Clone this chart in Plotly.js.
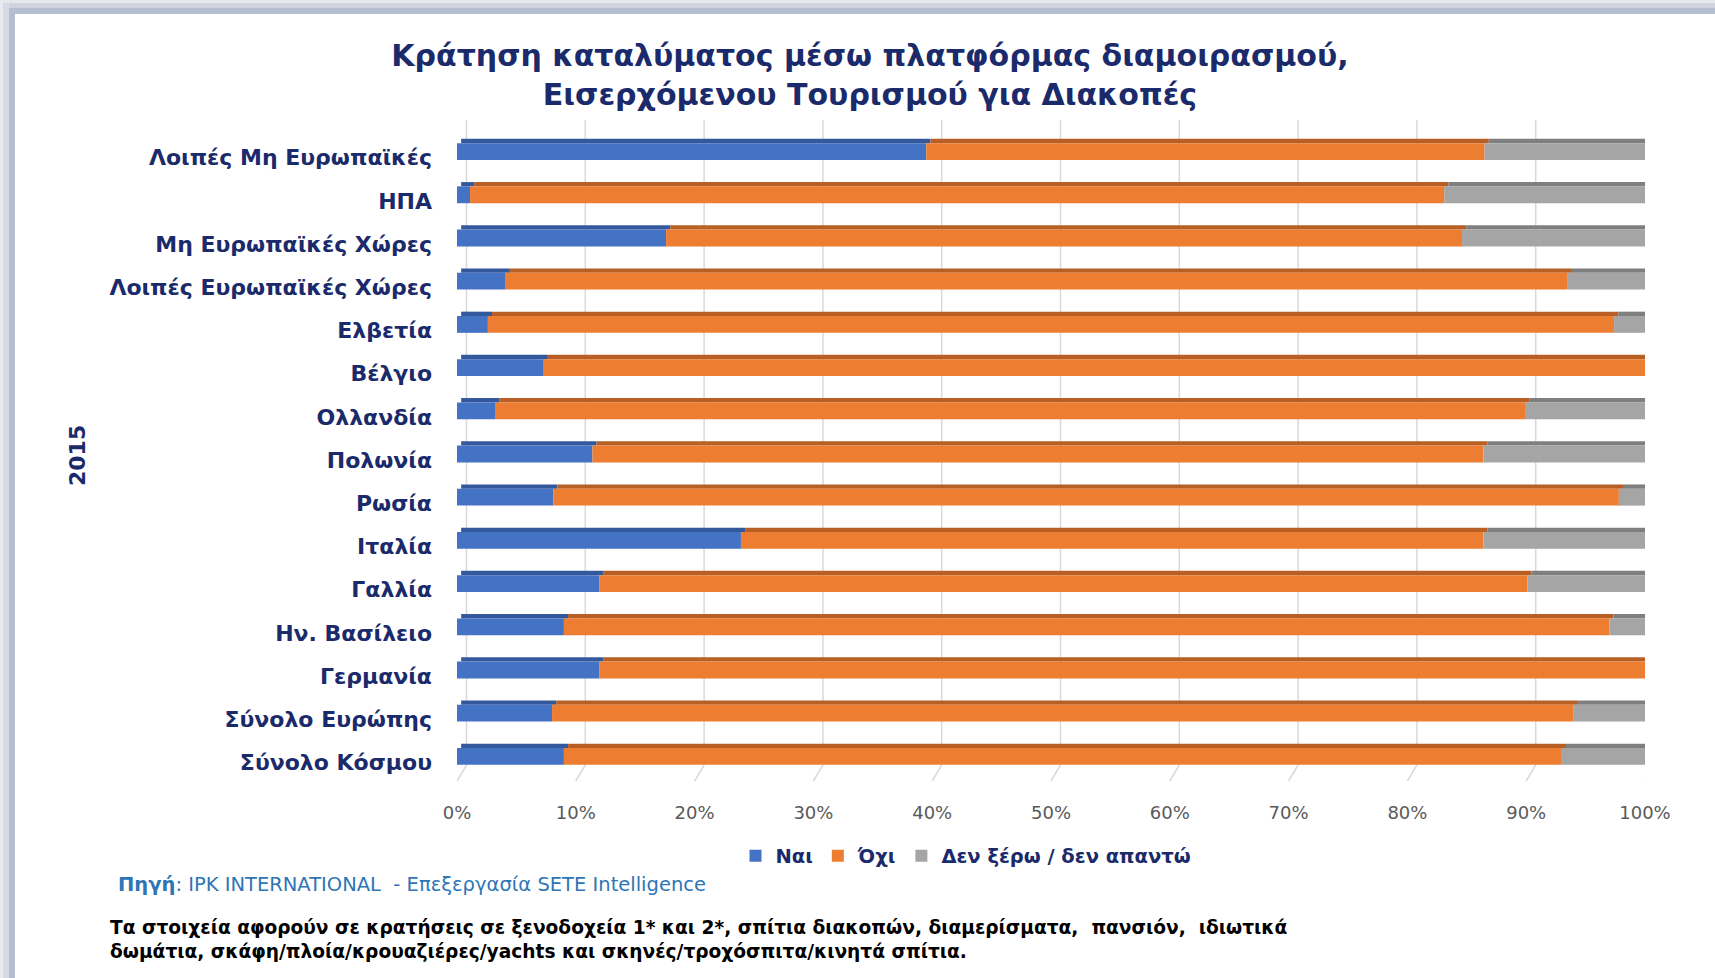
<!DOCTYPE html>
<html>
<head>
<meta charset="utf-8">
<script src="https://cdn.plot.ly/plotly-3.0.1.min.js"></script>
<style>
  html, body { margin: 0; padding: 0; background: #ffffff; }
  #wrap { position: relative; width: 1715px; height: 978px; overflow: hidden; background: #ffffff; }
  #chart { position: absolute; left: 0; top: 0; width: 1715px; height: 978px; }
  .band { position: absolute; pointer-events: none; z-index: 5; }
</style>
</head>
<body>
<div id="wrap">
  <div id="chart"></div>
  <div class="band" style="left:0;top:0;width:1715px;height:3px;background:#e7e8ee;"></div>
  <div class="band" style="left:0;top:3px;width:1715px;height:5px;background:#cfd3df;"></div>
  <div class="band" style="left:9px;top:8px;width:1706px;height:6px;background:#b5bdd0;"></div>
  <div class="band" style="left:0;top:0;width:3px;height:978px;background:#e9eaf0;"></div>
  <div class="band" style="left:3px;top:3px;width:6px;height:975px;background:#d7dbe5;"></div>
  <div class="band" style="left:9px;top:8px;width:6px;height:970px;background:#b5bdd0;"></div>
</div>
<script>
// ---- data ----
const categories = [
  'Λοιπές Μη Ευρωπαϊκές', 'ΗΠΑ', 'Μη Ευρωπαϊκές Χώρες', 'Λοιπές Ευρωπαϊκές Χώρες',
  'Ελβετία', 'Βέλγιο', 'Ολλανδία', 'Πολωνία', 'Ρωσία', 'Ιταλία', 'Γαλλία',
  'Ην. Βασίλειο', 'Γερμανία', 'Σύνολο Ευρώπης', 'Σύνολο Κόσμου'
];
const nai = [39.5, 1.1, 17.6, 4.1, 2.6, 7.3, 3.2, 11.4, 8.1, 23.9, 12.0, 9.0, 12.0, 8.0, 9.0];
const oxi = [47.0, 82.0, 67.0, 89.4, 94.8, 92.7, 86.7, 75.0, 89.7, 62.5, 78.1, 88.0, 88.0, 86.0, 84.0];
const den = [13.5, 16.9, 15.4, 6.5, 2.6, 0.0, 10.1, 13.6, 2.2, 13.6, 9.9, 3.0, 0.0, 6.0, 7.0];
const seriesNames = ['Ναι', 'Όχι', 'Δεν ξέρω / δεν απαντώ'];
const xTickVals = [0, 10, 20, 30, 40, 50, 60, 70, 80, 90, 100];
const xTickText = ['0%', '10%', '20%', '30%', '40%', '50%', '60%', '70%', '80%', '90%', '100%'];
const yearLabel = '2015';
const titleText = '<b>Κράτηση καταλύματος μέσω πλατφόρμας διαμοιρασμού,<br>Εισερχόμενου Τουρισμού για Διακοπές</b>';
const sourceText = '<b>Πηγή</b>: IPK INTERNATIONAL  - Επεξεργασία SETE Intelligence';
const noteText = '<b>Τα στοιχεία αφορούν σε κρατήσεις σε ξενοδοχεία 1* και 2*, σπίτια διακοπών, διαμερίσματα,  πανσιόν,  ιδιωτικά<br>δωμάτια, σκάφη/πλοία/κρουαζιέρες/yachts και σκηνές/τροχόσπιτα/κινητά σπίτια.</b>';

// ---- styling ----
const NAVY = '#1b2a6b';
const FONT = 'DejaVu Sans, Verdana, sans-serif';
const faceColors = ['#4472c4', '#ed7d31', '#a5a5a5'];
const topColors = ['#34589c', '#b85f25', '#7f7f7f'];
const FACE_W = 0.39, FACE_OFF = -0.195;
const TOP_W = 0.1, TOP_OFF = -0.295;
const TOP_SHIFT = 0.35;   // skew of the 3D top strip (in % units)
const SIDE_DEPTH = 0.45;  // depth of the right side face (in % units)
const GRID_SHIFT = 0.8;   // back wall offset of the grid (in % units)

const series = [nai, oxi, den];
const bases = series.map((s, k) => s.map((_, i) => {
  let b = 0; for (let j = 0; j < k; j++) b += series[j][i]; return b;
}));
const totals = nai.map((_, i) => nai[i] + oxi[i] + den[i]);

const traces = [];
// top strips (3D look)
series.forEach((s, k) => {
  traces.push({
    type: 'bar', orientation: 'h', y: categories, x: s,
    base: bases[k].map(b => b + TOP_SHIFT),
    width: TOP_W, offset: TOP_OFF,
    marker: { color: topColors[k], line: { width: 0 } },
    showlegend: false, hoverinfo: 'skip'
  });
});
// front faces
series.forEach((s, k) => {
  traces.push({
    type: 'bar', orientation: 'h', y: categories, x: s, base: bases[k],
    width: FACE_W, offset: FACE_OFF, name: seriesNames[k],
    marker: { color: faceColors[k], line: { width: 0 } }
  });
});
// right side faces
traces.push({
  type: 'bar', orientation: 'h', y: categories, x: categories.map(() => SIDE_DEPTH),
  base: totals, width: FACE_W + TOP_W - 0.03, offset: TOP_OFF,
  marker: { color: '#6a6a6a', line: { width: 0 } }, showlegend: false, hoverinfo: 'skip'
});

const L = 457, R = 70, T = 130, B = 200, W = 1715, H = 978;
const pw = W - L - R, ph = H - T - B;
const px = v => (v - L) / pw;
const py = v => (H - B - v) / ph;

// back-wall gridlines + floor edges
const shapes = [];
xTickVals.forEach(v => {
  shapes.push({
    type: 'line', xref: 'x', yref: 'paper', layer: 'below',
    x0: v + GRID_SHIFT, x1: v + GRID_SHIFT, y0: py(765), y1: py(120),
    line: { color: '#d9d9d9', width: 1.5 }
  });
  shapes.push({
    type: 'line', xref: 'x', yref: 'paper', layer: 'below',
    x0: v + GRID_SHIFT, x1: v, y0: py(765), y1: py(781),
    line: { color: '#d9d9d9', width: 1.5 }
  });
});

const layout = {
  width: W, height: H,
  margin: { l: L, r: R, t: T, b: B, pad: 0 },
  paper_bgcolor: '#ffffff', plot_bgcolor: 'rgba(0,0,0,0)',
  barmode: 'overlay',
  font: { family: FONT, color: NAVY },
  title: {
    text: titleText, x: 870 / W, xanchor: 'center', xref: 'container',
    y: 1 - 66 / H, yanchor: 'middle', yref: 'container',
    font: { family: FONT, size: 30, color: NAVY }
  },
  xaxis: {
    range: [0, 100], tickvals: xTickVals, ticktext: xTickText,
    showgrid: false, zeroline: false, showline: false, ticks: '',
    ticklabelstandoff: 22,
    tickfont: { family: FONT, size: 18, color: '#595959' }
  },
  yaxis: {
    type: 'category', range: [categories.length - 0.5, -0.5], autorange: false,
    showgrid: false, zeroline: false,
    showline: false, ticks: '', ticklabelstandoff: 24, ticklabelshift: -6,
    tickfont: { family: FONT, size: 22, color: NAVY, weight: 'bold' }
  },
  shapes: shapes,
  legend: {
    orientation: 'h', x: px(966), xanchor: 'center', y: py(856), yanchor: 'middle',
    font: { family: FONT, size: 19.5, color: NAVY, weight: 'bold' },
    itemwidth: 30, tracegroupgap: 0, bgcolor: 'rgba(0,0,0,0)'
  },
  annotations: [
    {
      text: '<b>' + yearLabel + '</b>', textangle: -90, xref: 'paper', yref: 'paper',
      x: px(77), y: py(456), xanchor: 'center', yanchor: 'middle', showarrow: false,
      font: { family: FONT, size: 22, color: NAVY }
    },
    {
      text: sourceText, xref: 'paper', yref: 'paper', x: px(116), y: py(884),
      xanchor: 'left', yanchor: 'middle', showarrow: false, align: 'left',
      font: { family: FONT, size: 19.5, color: '#2e75b6' }
    },
    {
      text: noteText, xref: 'paper', yref: 'paper', x: px(108), y: py(939),
      xanchor: 'left', yanchor: 'middle', showarrow: false, align: 'left',
      font: { family: FONT, size: 18.6, color: '#000000' }
    }
  ],
  showlegend: true
};

Plotly.newPlot('chart', traces, layout, { displayModeBar: false, staticPlot: true });
</script>
</body>
</html>
